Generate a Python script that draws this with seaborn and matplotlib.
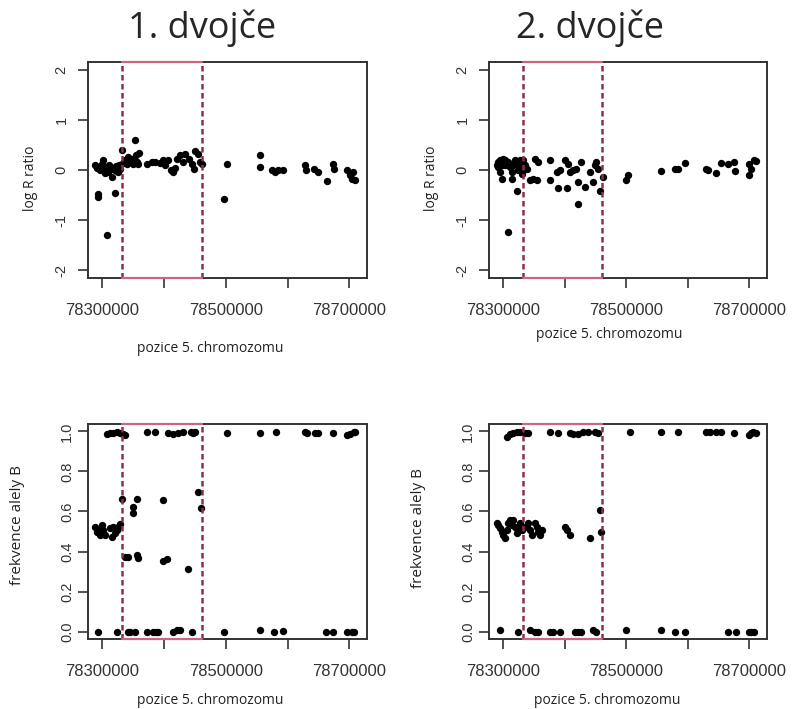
import matplotlib
matplotlib.use("Agg")
import matplotlib.pyplot as plt
import seaborn as sns
import pandas as pd

# --- data (positions in bp on chromosome 5) ---
region = [78332000, 78461000]

lrr1_pos = [78289000, 78292000, 78294000, 78297000, 78299500, 78302000, 78304000, 78305000,
            78307500, 78309000, 78310000, 78312000, 78315600, 78317000, 78318300, 78321000,
            78322000, 78323700, 78326400, 78328000, 78329100, 78294000, 78294000, 78321000,
            78307500, 78331800, 78334000, 78337000, 78340000, 78342600, 78345000, 78348000,
            78350700, 78353400, 78355000, 78356000, 78358800, 78360000, 78372000, 78380000,
            78386000, 78394000, 78398000, 78402000, 78407000, 78412000, 78415000, 78418000,
            78421000, 78426000, 78431000, 78434000, 78440000, 78445000, 78448000, 78450000,
            78456000, 78459000, 78461000, 78502800, 78497400, 78555700, 78555700, 78574500,
            78580000, 78585300, 78593400, 78628500, 78630000, 78642000, 78650000, 78663600,
            78674300, 78675400, 78696000, 78701000, 78706600, 78709400, 78704000]
lrr1_val = [0.10, 0.05, 0.07, 0.00, 0.13, 0.21, 0.00, -0.05,
            0.07, 0.00, -0.03, 0.10, -0.13, 0.05, 0.03, 0.00,
            0.08, 0.07, -0.03, 0.10, 0.03, -0.48, -0.53, -0.45,
            -1.30, 0.40, 0.15, 0.20, 0.12, 0.27, 0.20, 0.22,
            0.13, 0.60, 0.30, 0.17, 0.13, 0.35, 0.13, 0.17,
            0.17, 0.15, 0.20, 0.10, 0.20, 0.00, -0.03, 0.05,
            0.23, 0.30, 0.17, 0.33, 0.23, 0.13, 0.03, 0.38,
            0.33, 0.17, 0.13, 0.13, -0.57, 0.30, 0.07, 0.00,
            -0.03, 0.00, 0.00, 0.10, 0.00, 0.03, -0.03, -0.21,
            0.13, 0.03, 0.00, -0.10, -0.03, -0.20, -0.17]

lrr2_pos = [78292400, 78295100, 78300500, 78303200, 78305900, 78292400, 78297800, 78295100,
            78297800, 78303200, 78308600, 78311300, 78314000, 78314000, 78319400, 78322100,
            78324800, 78324800, 78327500, 78330200, 78332900, 78335600, 78332900, 78330200,
            78338300, 78322100, 78308600, 78343700, 78349100, 78354500, 78351800, 78357200,
            78376100, 78376100, 78387000, 78392300, 78389600, 78403100, 78400400, 78405800,
            78408500, 78413900, 78419300, 78422000, 78422000, 78427400, 78432800, 78440900,
            78446300, 78449000, 78451700, 78454400, 78457100, 78462500, 78499200, 78503000,
            78557000, 78578500, 78584000, 78594700, 78629900, 78632500, 78646000, 78654100,
            78665000, 78675700, 78677300, 78700000, 78700000, 78702700, 78708100, 78710800,
            78290000, 78300000, 78317000, 78328000]
lrr2_val = [0.17, 0.20, 0.23, 0.20, 0.13, 0.07, 0.10, -0.03,
            -0.17, 0.10, 0.17, 0.07, -0.03, -0.17, 0.20, 0.17,
            0.13, 0.00, 0.07, 0.13, 0.20, 0.10, 0.00, -0.07,
            0.03, -0.41, -1.23, -0.20, -0.17, -0.20, 0.23, 0.17,
            0.21, -0.20, -0.03, 0.00, -0.35, -0.35, 0.20, 0.13,
            -0.03, 0.00, 0.03, -0.67, -0.23, 0.17, -0.33, -0.03,
            -0.23, 0.10, 0.17, 0.03, -0.41, -0.13, -0.20, -0.10,
            -0.01, 0.03, 0.03, 0.15, 0.03, 0.00, -0.05, 0.15,
            0.13, 0.17, -0.01, 0.13, -0.10, 0.03, 0.20, 0.19,
            0.10, 0.15, 0.10, 0.20]

baf1_pos = [78307500, 78312900, 78318300, 78323700, 78329100, 78334500, 78337200, 78372300,
            78385800, 78407400, 78415500, 78423600, 78431600, 78444000, 78447800, 78450500,
            78331800, 78356100, 78350700, 78350700, 78399300, 78455900, 78460200, 78329100,
            78288700, 78294100, 78299500, 78302200, 78296800, 78304900, 78312900, 78315600,
            78321000, 78323700, 78326400, 78318300, 78291400,
            78337200, 78342600, 78356100, 78358800, 78399300, 78404700, 78438600,
            78294100, 78323700, 78342600, 78353400, 78372300, 78383100, 78391200, 78415500,
            78420900, 78426200, 78445100, 78345500, 78388000,
            78502800, 78555700, 78581600, 78628500, 78631200, 78644700, 78650000, 78674300,
            78695900, 78701300, 78706700, 78709400,
            78497400, 78555700, 78577300, 78592400, 78662500, 78674300, 78695900, 78704000,
            78707800]
baf1_val = [0.988, 0.991, 0.993, 0.995, 0.991, 0.988, 0.980, 0.997,
            0.997, 0.993, 0.988, 0.993, 0.997, 0.997, 0.991, 0.997,
            0.662, 0.662, 0.620, 0.594, 0.657, 0.698, 0.615, 0.537,
            0.524, 0.507, 0.532, 0.507, 0.483, 0.483, 0.516, 0.475,
            0.491, 0.507, 0.524, 0.524, 0.500,
            0.371, 0.375, 0.384, 0.367, 0.355, 0.362, 0.313,
            0.000, 0.000, 0.000, 0.000, 0.000, 0.000, 0.000, 0.000,
            0.007, 0.010, 0.000, 0.000, 0.000,
            0.993, 0.993, 0.997, 0.997, 0.993, 0.993, 0.993, 0.993,
            0.980, 0.988, 0.997, 0.997,
            0.000, 0.007, 0.000, 0.005, 0.000, 0.000, 0.000, 0.000,
            0.000]

baf2_pos = [78305900, 78311300, 78316700, 78322100, 78327500, 78335600, 78341000, 78376100,
            78389600, 78408500, 78413900, 78422000, 78430100, 78438200, 78449000, 78454400,
            78457100, 78459800,
            78292400, 78295100, 78297800, 78300500, 78303200, 78305900, 78308600, 78311300,
            78314000, 78316700, 78319400, 78322100, 78324800, 78327500, 78330200, 78332900,
            78338300, 78341000, 78343700, 78346400, 78351800, 78354500, 78357200, 78359900,
            78362600, 78400400, 78403100, 78408500, 78440900, 78289700,
            78295100, 78324800, 78343700, 78351800, 78357200, 78376100, 78381500, 78392300,
            78416600, 78422000, 78427400, 78446300, 78451700,
            78505700, 78557000, 78583900, 78629800, 78635300, 78646000, 78654100, 78675700,
            78698900, 78702700, 78706500, 78710800,
            78500300, 78557000, 78578500, 78594700, 78665000, 78678500, 78698900, 78702700,
            78708100]
baf2_val = [0.972, 0.985, 0.993, 0.997, 0.997, 0.993, 0.993, 0.997,
            0.993, 0.993, 0.988, 0.985, 0.997, 0.997, 0.997, 0.993,
            0.607, 0.499,
            0.532, 0.516, 0.499, 0.483, 0.466, 0.507, 0.540, 0.557,
            0.532, 0.557, 0.524, 0.491, 0.524, 0.540, 0.507, 0.524,
            0.524, 0.540, 0.507, 0.483, 0.540, 0.524, 0.499, 0.483,
            0.507, 0.524, 0.507, 0.483, 0.466, 0.540,
            0.007, 0.000, 0.010, 0.000, 0.000, 0.000, 0.000, 0.000,
            0.000, 0.000, 0.000, 0.007, 0.000,
            0.997, 0.997, 0.997, 0.997, 0.997, 0.997, 0.997, 0.990,
            0.980, 0.990, 0.997, 0.993,
            0.007, 0.007, 0.000, 0.000, 0.000, 0.000, 0.000, 0.000,
            0.000]

x_ticks = [78300000, 78400000, 78500000, 78600000, 78700000]
x_labels = ["78300000", "", "78500000", "", "78700000"]
lrr_ticks = [-2, -1, 0, 1, 2]
lrr_labels = ["-2", "-1", "0", "1", "2"]
baf_ticks = [0.0, 0.2, 0.4, 0.6, 0.8, 1.0]
baf_labels = ["0.0", "0.2", "0.4", "0.6", "0.8", "1.0"]

sns.set_style("ticks")
plt.rcParams["font.family"] = ["Liberation Sans", "DejaVu Sans"]
label_font = ["Open Sans", "DejaVu Sans"]

W, H = 792, 709
fig = plt.figure(figsize=(W / 100, H / 100), dpi=100)


def box(l, t, r, b):
    return [l / W, 1 - b / H, (r - l) / W, (b - t) / H]


def ftext(x, y, s, **kw):
    fig.text(x / W, 1 - y / H, s, ha="center", **kw)


panels = [
    (box(88, 62, 367, 278), lrr1_pos, lrr1_val, (-2.16, 2.16), lrr_ticks, lrr_labels, 7),
    (box(489, 62, 767, 278), lrr2_pos, lrr2_val, (-2.16, 2.16), lrr_ticks, lrr_labels, 7),
    (box(88, 424, 367, 639), baf1_pos, baf1_val, (-0.037, 1.037), baf_ticks, baf_labels, 3),
    (box(489, 424, 767, 639), baf2_pos, baf2_val, (-0.037, 1.037), baf_ticks, baf_labels, 3),
]

for rect, pos, val, ylim, yt, yl, ypad in panels:
    ax = fig.add_axes(rect)
    df = pd.DataFrame({"pos": pos, "val": val})
    sns.scatterplot(data=df, x="pos", y="val", ax=ax, color="black", s=28,
                    linewidth=0, legend=False, zorder=3)
    ax.set_xlim(78277300, 78728500)
    ax.set_ylim(*ylim)

    # highlighted region: dashed sides, thin solid top/bottom
    for xv in region:
        ax.axvline(xv, color="#8a2f55", lw=1.8, ls=(0, (2.2, 1.4)), zorder=4)
    for yv in ylim:
        ax.plot(region, [yv, yv], color="#cc6680", lw=1.6, clip_on=False, zorder=5)

    ax.set_xticks(x_ticks)
    ax.set_xticklabels(x_labels)
    ax.set_yticks(yt)
    ax.set_yticklabels(yl, rotation=90, va="center")
    ax.set_xlabel("")
    ax.set_ylabel("")
    for sp in ax.spines.values():
        sp.set_visible(True)
        sp.set_color("#333333")
        sp.set_linewidth(1.4)
    ax.tick_params(axis="x", length=7, width=1.2, color="#333333",
                   labelsize=12, labelcolor="#333333", pad=11)
    ax.tick_params(axis="y", length=7, width=1.2, color="#333333",
                   labelsize=10.5, labelcolor="#333333", pad=ypad)

ftext(202, 38, "1. dvojče", fontsize=26, family=label_font, va="baseline")
ftext(590, 38, "2. dvojče", fontsize=26, family=label_font, va="baseline")

ftext(210, 348, "pozice 5. chromozomu", fontsize=10, family=label_font, va="center", color="#222222")
ftext(609, 335, "pozice 5. chromozomu", fontsize=10, family=label_font, va="center", color="#222222")
ftext(210, 700, "pozice 5. chromozomu", fontsize=10, family=label_font, va="center", color="#222222")
ftext(607, 700, "pozice 5. chromozomu", fontsize=10, family=label_font, va="center", color="#222222")

ftext(30, 178, "log R ratio", fontsize=10, family=label_font, va="center", rotation=90, color="#222222")
ftext(432, 178, "log R ratio", fontsize=10, family=label_font, va="center", rotation=90, color="#222222")
ftext(18, 525, "frekvence alely B", fontsize=11, family=label_font, va="center", rotation=90, color="#222222")
ftext(418, 528, "frekvence alely B", fontsize=11, family=label_font, va="center", rotation=90, color="#222222")

fig.savefig("out.png", dpi=100)
